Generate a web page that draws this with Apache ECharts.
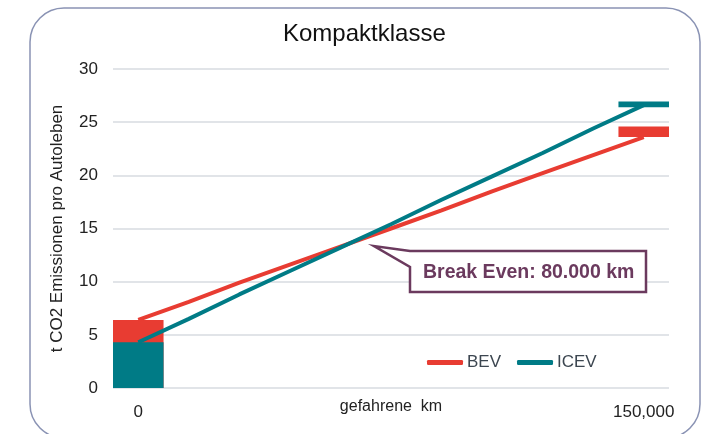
<!DOCTYPE html>
<html>
<head>
<meta charset="utf-8">
<script src="https://cdn.jsdelivr.net/npm/echarts@6/dist/echarts.min.js"></script>
<style>
  html, body { margin: 0; padding: 0; background: #fff; }
  #main { width: 709px; height: 434px; }
</style>
</head>
<body>
<div id="main"></div>
<script>
// km steps, only first and last get a label
var kmCategories = ['0', '15,000', '30,000', '45,000', '60,000', '75,000', '90,000', '105,000', '120,000', '135,000', '150,000'];
// emissions over the car's life (t CO2)
var bevLine = [6.4, 8.1, 9.9, 11.6, 13.3, 15.0, 16.7, 18.5, 20.2, 21.9, 23.6];
var icevLine = [4.3, 6.5, 8.8, 11.0, 13.2, 15.4, 17.7, 19.9, 22.1, 24.4, 26.6];
// production share at 0 km
var bevStart = [6.4, '-', '-', '-', '-', '-', '-', '-', '-', '-', '-'];
var icevStart = [4.3, '-', '-', '-', '-', '-', '-', '-', '-', '-', '-'];
// end markers at 150,000 km (base + band)
var bevEndBase = ['-', '-', '-', '-', '-', '-', '-', '-', '-', '-', 23.6];
var bevEndBand = ['-', '-', '-', '-', '-', '-', '-', '-', '-', '-', 1.0];
var icevEndBase = ['-', '-', '-', '-', '-', '-', '-', '-', '-', '-', 26.4];
var icevEndBand = ['-', '-', '-', '-', '-', '-', '-', '-', '-', '-', 0.55];

var RED = '#e83c32';
var TEAL = '#007b86';
var PURPLE = '#6b3a5e';
var FONT = '"Liberation Sans", Arial, sans-serif';

var chart = echarts.init(document.getElementById('main'), null, { renderer: 'canvas' });

var option = {
  backgroundColor: '#ffffff',
  animation: false,
  textStyle: { fontFamily: FONT },
  title: {
    text: 'Kompaktklasse',
    left: 278,
    top: 17,
    textStyle: { fontFamily: FONT, fontSize: 24, fontWeight: 'normal', color: '#111' }
  },
  grid: { left: 113, right: 40, top: 69, bottom: 46, outerBoundsMode: 'none', containLabel: false },
  legend: {
    left: 427,
    top: 354,
    padding: 0,
    itemWidth: 36,
    itemHeight: 5,
    itemGap: 16,
    textStyle: { fontFamily: FONT, fontSize: 17, color: '#3c4650', padding: [0, 0, 0, -1] },
    data: [
      { name: 'BEV', icon: 'roundRect', itemStyle: { color: RED } },
      { name: 'ICEV', icon: 'roundRect', itemStyle: { color: TEAL } }
    ]
  },
  xAxis: {
    type: 'category',
    data: kmCategories,
    boundaryGap: true,
    name: 'gefahrene  km',
    nameLocation: 'middle',
    nameGap: 11,
    nameMoveOverlap: false,
    nameTextStyle: { fontFamily: FONT, fontSize: 16, color: '#222' },
    axisLine: { show: false },
    axisTick: { show: false },
    axisLabel: {
      interval: 0,
      margin: 16,
      fontSize: 17,
      color: '#222',
      formatter: function (v, i) {
        return (i === 0 || i === kmCategories.length - 1) ? v : '';
      }
    }
  },
  yAxis: {
    type: 'value',
    min: 0,
    max: 30,
    interval: 5,
    name: 't CO2 Emissionen pro Autoleben',
    nameLocation: 'middle',
    nameGap: 47,
    nameTextStyle: { fontFamily: FONT, fontSize: 17, color: '#222' },
    axisLine: { show: false },
    axisTick: { show: false },
    axisLabel: { fontSize: 17, color: '#222', margin: 15 },
    splitLine: { show: true, lineStyle: { color: '#e1e4e8', width: 2 } }
  },
  series: [
    {
      name: 'BEV Produktion', type: 'bar', data: bevStart,
      barWidth: '100%', barGap: '-100%',
      itemStyle: { color: RED }, z: 2
    },
    {
      name: 'ICEV Produktion', type: 'bar', data: icevStart,
      barWidth: '100%', barGap: '-100%',
      itemStyle: { color: TEAL }, z: 3
    },
    {
      name: 'bevBase', type: 'bar', stack: 'bevEnd', data: bevEndBase,
      barWidth: '100%', barGap: '-100%',
      itemStyle: { color: 'rgba(0,0,0,0)' }, silent: true
    },
    {
      name: 'BEV Ende', type: 'bar', stack: 'bevEnd', data: bevEndBand,
      barWidth: '100%', barGap: '-100%',
      itemStyle: { color: RED }
    },
    {
      name: 'icevBase', type: 'bar', stack: 'icevEnd', data: icevEndBase,
      barWidth: '100%', barGap: '-100%',
      itemStyle: { color: 'rgba(0,0,0,0)' }, silent: true
    },
    {
      name: 'ICEV Ende', type: 'bar', stack: 'icevEnd', data: icevEndBand,
      barWidth: '100%', barGap: '-100%',
      itemStyle: { color: TEAL }
    },
    {
      name: 'BEV', type: 'line', data: bevLine,
      symbol: 'none', lineStyle: { color: RED, width: 4 },
      itemStyle: { color: RED }, z: 5
    },
    {
      name: 'ICEV', type: 'line', data: icevLine,
      symbol: 'none', lineStyle: { color: TEAL, width: 4 },
      itemStyle: { color: TEAL }, z: 6
    }
  ],
  graphic: [
    {
      // outer rounded frame
      type: 'rect',
      shape: { x: 30, y: 8, width: 670, height: 430, r: 34 },
      style: { fill: 'none', stroke: '#8a93b4', lineWidth: 1.5 },
      z: 0, silent: true
    },
    {
      // callout
      type: 'polygon',
      shape: { points: [[410, 251], [374, 246], [410, 267], [410, 292], [646, 292], [646, 251]] },
      style: { fill: '#fff', stroke: PURPLE, lineWidth: 2.5 },
      z: 10
    },
    {
      type: 'text',
      left: 423,
      top: 263,
      style: {
        text: 'Break Even: 80.000 km',
        fill: PURPLE,
        font: 'bold 19.5px ' + FONT
      },
      z: 11
    }
  ]
};

chart.setOption(option);
</script>
</body>
</html>
